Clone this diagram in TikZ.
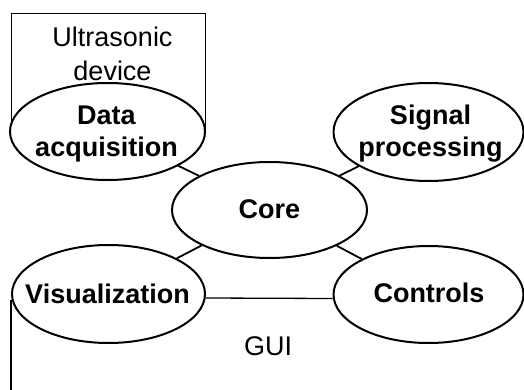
\documentclass[tikz,border=0pt]{standalone}
\usepackage{fontspec}
\setmainfont{Liberation Sans}
\usetikzlibrary{shapes.geometric}
\begin{document}
\begin{tikzpicture}[x=1pt,y=-1pt,
 ell/.style={draw, ellipse, line width=2pt, fill=white, inner sep=0pt},
 boldtxt/.style={font=\fontsize{27}{32}\selectfont\bfseries, align=center, inner sep=0pt},
 plaintxt/.style={font=\fontsize{27}{34}\selectfont, align=center, inner sep=0pt},
 boxline/.style={line width=1.3pt},
 conn/.style={line width=1.8pt}]
\useasboundingbox (0,0) rectangle (524,390);
% Ultrasonic device box (behind ellipse)
\node[draw, boxline, minimum width=194pt, minimum height=118pt, anchor=north west, inner sep=0pt] (us) at (11,13) {};
\node[plaintxt] (ustxt) at (112.5,54) {Ultrasonic\\device};
% ellipses
\node[ell, minimum width=195pt, minimum height=97pt] (data) at (107.5,131.5) {};
\node[ell, minimum width=190pt, minimum height=98pt] (sig) at (428.5,132) {};
\node[ell, minimum width=195pt, minimum height=96pt] (core) at (269.5,210) {};
\node[ell, minimum width=193pt, minimum height=98pt] (vis) at (108.5,294) {};
\node[ell, minimum width=190pt, minimum height=97pt] (ctrl) at (428.5,294.5) {};
% labels
\node[boldtxt] (datatxt) at (106.5,134) {Data\\acquisition};
\node[boldtxt] (sigtxt) at (430.5,134) {Signal\\processing};
\node[boldtxt] (coretxt) at (269.5,209) {Core};
\node[boldtxt] (vistxt) at (107.5,294) {Visualization};
\node[boldtxt] (ctrltxt) at (429,293) {Controls};
\node[plaintxt] (guitxt) at (268,346) {GUI};
% connectors
\draw[conn] (data) -- (core);
\draw[conn] (sig) -- (core);
\draw[conn] (vis) -- (core);
\draw[conn] (ctrl) -- (core);
% GUI region edges
\coordinate (guibl) at (12,392);
\draw[boxline] ([yshift=-4pt]vis.east) -- ([yshift=-4pt]ctrl.west);
\draw[boxline] ([yshift=-6pt]vis.west) -- (vis.west |- guibl);
\end{tikzpicture}
\end{document}
